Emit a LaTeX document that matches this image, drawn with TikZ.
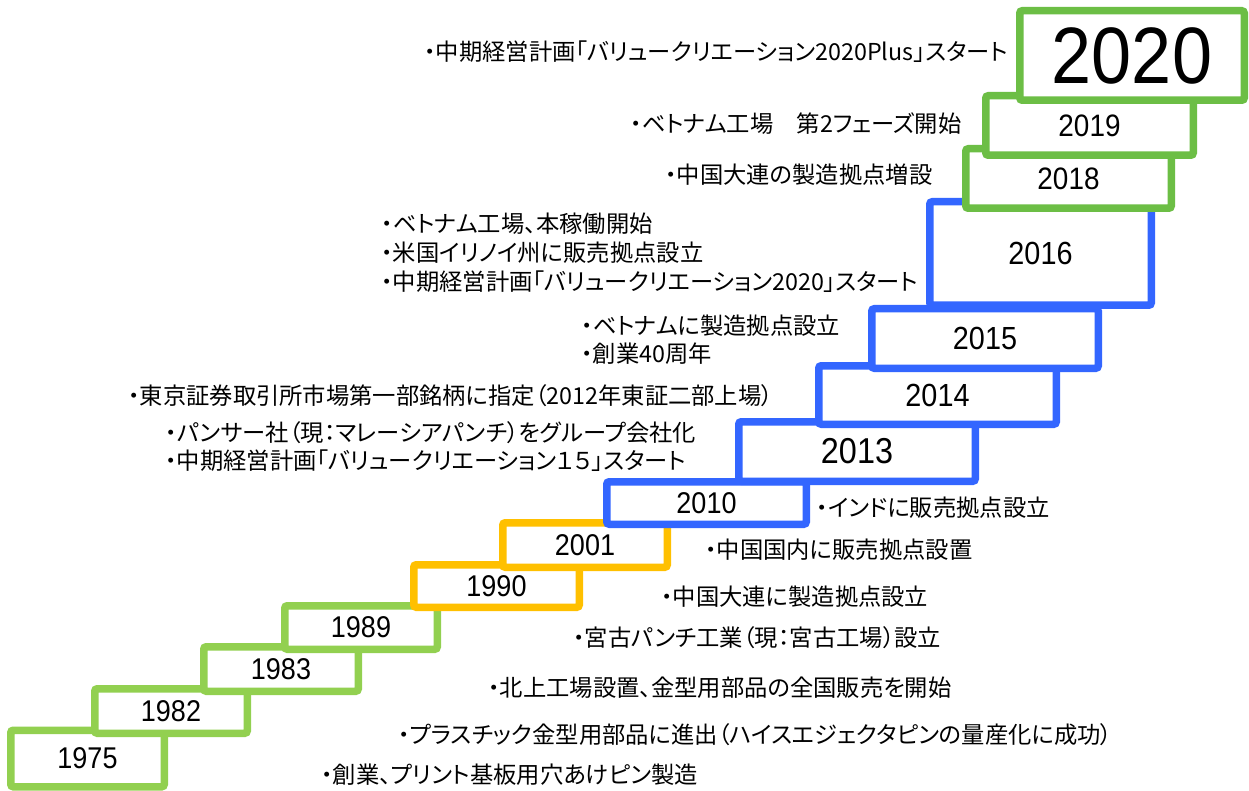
\documentclass[tikz,border=0pt]{standalone}
\usepackage{fontspec}
\newfontfamily\jp[RawFeature=+palt]{Noto Sans CJK JP}
\newfontfamily\yearfont[FakeStretch=0.9]{Liberation Sans}
\definecolor{lgreen}{HTML}{92D050}
\definecolor{dgreen}{HTML}{6CBE45}
\definecolor{bblue}{HTML}{3366FF}
\definecolor{yel}{HTML}{FFC000}
\begin{document}
\begin{tikzpicture}[x=1pt,y=-1pt,
  yearbox/.style={draw, fill=white, line width=7.5pt, rounded corners=2.5pt, inner sep=0pt, text=black, font=\yearfont\fontsize{30}{30}\selectfont},
  note/.style={anchor=west, inner sep=0pt, text=black, font=\jp\fontsize{23.3}{23.3}\selectfont}]
\useasboundingbox[fill=white] (0,0) rectangle (1249,791);
% boxes, lower first
\node[yearbox, draw=lgreen, minimum width=153.5pt, minimum height=56.5pt] (y1975) at (87.5,758.5) {1975};
\node[yearbox, draw=lgreen, minimum width=152.5pt, minimum height=44.5pt] (y1982) at (171,711) {1982};
\node[yearbox, draw=lgreen, minimum width=154.5pt, minimum height=44.5pt] (y1983) at (281,669) {1983};
\node[yearbox, draw=lgreen, minimum width=152.5pt, minimum height=43.5pt] (y1989) at (361,627.5) {1989};
\node[yearbox, draw=yel, minimum width=165.5pt, minimum height=42.5pt] (y1990) at (496.5,586) {1990};
\node[yearbox, draw=yel, minimum width=164.5pt, minimum height=44.5pt] (y2001) at (585,545) {2001};
\node[yearbox, draw=bblue, minimum width=199.5pt, minimum height=42.5pt] (y2010) at (706.5,503) {2010};
\node[yearbox, draw=bblue, minimum width=236.5pt, minimum height=59.5pt, font=\yearfont\fontsize{36}{36}\selectfont] (y2013) at (857,451.5) {2013};
\node[yearbox, draw=bblue, minimum width=237.5pt, minimum height=58.5pt, font=\yearfont\fontsize{32}{32}\selectfont] (y2014) at (937.5,395) {2014};
\node[yearbox, draw=bblue, minimum width=226.5pt, minimum height=59.5pt, font=\yearfont\fontsize{32}{32}\selectfont] (y2015) at (985,338.5) {2015};
\node[yearbox, draw=bblue, minimum width=221.5pt, minimum height=103.5pt, font=\yearfont\fontsize{32}{32}\selectfont] (y2016) at (1040.5,253.5) {2016};
\node[yearbox, draw=dgreen, minimum width=205.5pt, minimum height=59.5pt, font=\yearfont\fontsize{31}{31}\selectfont] (y2018) at (1068.5,178.5) {2018};
\node[yearbox, draw=dgreen, minimum width=207.5pt, minimum height=59.5pt, font=\yearfont\fontsize{31}{31}\selectfont] (y2019) at (1089.5,125.5) {2019};
\node[yearbox, draw=dgreen, minimum width=224.5pt, minimum height=89.5pt, font=\yearfont\fontsize{80}{80}\selectfont] (y2020) at (1132,55.5) {2020};
% notes
\node[note] (t2020) at (424,52) {・中期経営計画「バリュークリエーション2020Plus」スタート};
\node[note] (t2019) at (630,124) {・ベトナム工場　第2フェーズ開始};
\node[note] (t2018) at (665,175) {・中国大連の製造拠点増設};
\node[note] (t2016a) at (381,224) {・ベトナム工場、本稼働開始};
\node[note] (t2016b) at (381,253) {・米国イリノイ州に販売拠点設立};
\node[note] (t2016c) at (381,282) {・中期経営計画「バリュークリエーション2020」スタート};
\node[note] (t2015a) at (581,326) {・ベトナムに製造拠点設立};
\node[note] (t2015b) at (581,354) {・創業40周年};
\node[note] (t2014) at (128,396) {・東京証券取引所市場第一部銘柄に指定（2012年東証二部上場）};
\node[note] (t2013a) at (165,433) {・パンサー社（現：マレーシアパンチ）をグループ会社化};
\node[note] (t2013b) at (165,461) {・中期経営計画「バリュークリエーション１５」スタート};
\node[note] (t2010) at (816,508) {・インドに販売拠点設立};
\node[note] (t2001) at (705,550) {・中国国内に販売拠点設置};
\node[note] (t1990) at (661,597) {・中国大連に製造拠点設立};
\node[note] (t1989) at (573,638) {・宮古パンチ工業（現：宮古工場）設立};
\node[note] (t1983) at (488,688) {・北上工場設置、金型用部品の全国販売を開始};
\node[note] (t1982) at (398,735) {・プラスチック金型用部品に進出（ハイスエジェクタピンの量産化に成功）};
\node[note] (t1975) at (321,775) {・創業、プリント基板用穴あけピン製造};
\end{tikzpicture}
\end{document}
